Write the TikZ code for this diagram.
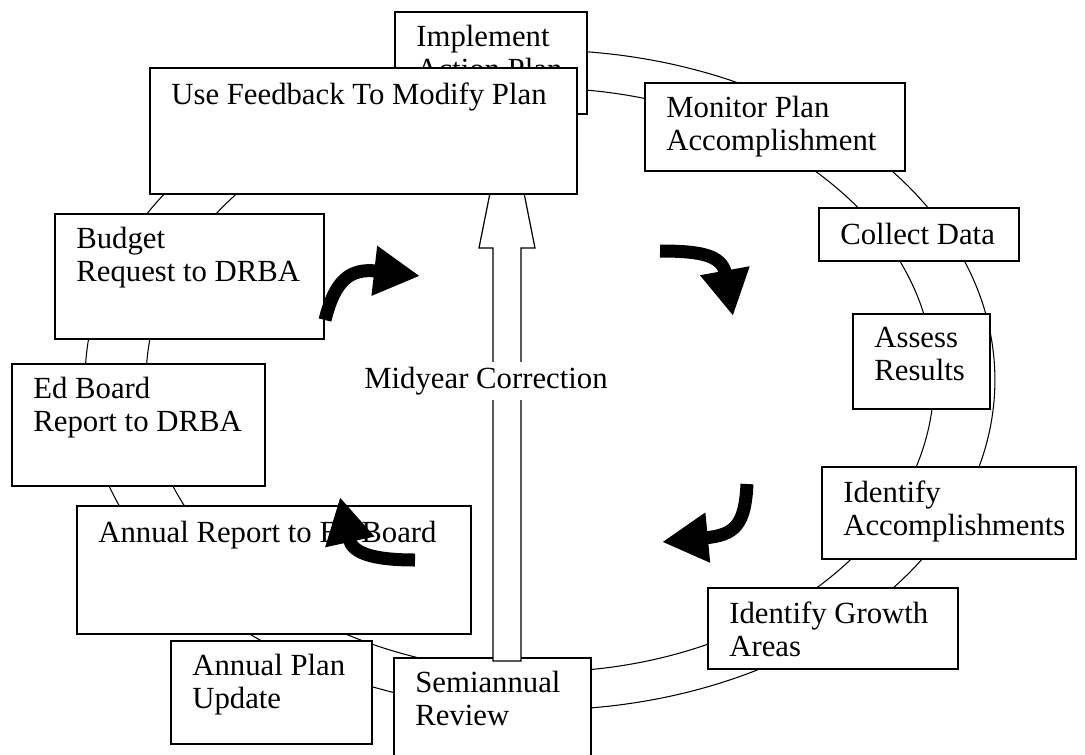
\documentclass[tikz,border=0pt]{standalone}
\usepackage{fontspec}
\setmainfont{Liberation Serif}
\usetikzlibrary{arrows.meta}

\begin{document}
\begin{tikzpicture}[
    x=0.02cm, y=-0.02cm,
    font=\fontsize{17.5}{18.8}\selectfont,
    ring/.style={line width=0.6pt},
    stage/.style={draw, fill=white, line width=1pt, anchor=north west, inner sep=0pt},
    caption/.style={anchor=north west, align=left, inner sep=0pt, execute at begin node=\strut},
    turn/.style={line width=0.26cm, -{Triangle[length=0.92cm, width=0.94cm]}},
    hollow/.style={draw, fill=white, line width=0.7pt, line join=miter},
]
\useasboundingbox (0,0) rectangle (1085,754);
\draw[ring] (540,380) ellipse [x radius=9.1cm, y radius=6.6cm];
\draw[ring] (540,380) ellipse [x radius=7.88cm, y radius=5.84cm];

\node[stage, minimum width=3.84cm, minimum height=2.04cm] (implement) at (394,11) {};
\node[caption] (implement-t) at ([shift={(22,14)}]implement.north west) {Implement\\Action Plan};
\node[stage, minimum width=5.2cm, minimum height=1.76cm] (monitor) at (644,82) {};
\node[caption] (monitor-t) at ([shift={(22,14)}]monitor.north west) {Monitor Plan\\Accomplishment};
\node[stage, minimum width=4cm, minimum height=1.06cm] (collect) at (818,207) {};
\node[caption] (collect-t) at ([shift={(22,14)}]collect.north west) {Collect Data};
\node[stage, minimum width=2.74cm, minimum height=1.9cm] (assess) at (852,313) {};
\node[caption] (assess-t) at ([shift={(22,14)}]assess.north west) {Assess\\Results};
\node[stage, minimum width=5.08cm, minimum height=1.84cm] (accomplish) at (821,466) {};
\node[caption] (accomplish-t) at ([shift={(22,14)}]accomplish.north west) {Identify\\Accomplishments};
\node[stage, minimum width=5cm, minimum height=1.62cm] (growth) at (707,587) {};
\node[caption] (growth-t) at ([shift={(22,14)}]growth.north west) {Identify Growth\\Areas};
\node[stage, minimum width=3.94cm, minimum height=2.4cm] (semiannual) at (393,657) {};
\node[caption] (semiannual-t) at ([shift={(22,14)}]semiannual.north west) {Semiannual\\Review};
\node[stage, minimum width=4.02cm, minimum height=2.06cm] (planupdate) at (170,640) {};
\node[caption] (planupdate-t) at ([shift={(22,14)}]planupdate.north west) {Annual Plan\\Update};
\node[stage, minimum width=7.88cm, minimum height=2.56cm] (annual) at (76,505) {};
\node[caption] (annual-t) at ([shift={(22,14)}]annual.north west) {Annual Report to Ed Board};
\node[stage, minimum width=5.06cm, minimum height=2.44cm] (edboard) at (11,363) {};
\node[caption] (edboard-t) at ([shift={(22,14)}]edboard.north west) {Ed Board\\Report to DRBA};
\node[stage, minimum width=5.38cm, minimum height=2.5cm] (budget) at (54,213) {};
\node[caption] (budget-t) at ([shift={(22,14)}]budget.north west) {Budget\\Request to DRBA};

\coordinate (midfoot) at (507,661);
\draw[hollow] ([shift={(-14,0)}]midfoot) -- ++(0,-413) -- ++(-14,0) -- (507,108)
    -- (535,248) -- ++(-14,0) -- ([shift={(14,0)}]midfoot) -- cycle;
\node[stage, minimum width=8.54cm, minimum height=2.52cm] (feedback) at (149,67) {};
\node[caption] (feedback-t) at ([shift={(22,14)}]feedback.north west) {Use Feedback To Modify Plan};
\node[fill=white, inner sep=3pt] (midyear) at (486,381) {Midyear Correction};

\draw[turn] (325,320) .. controls (335,280) and (350,268) .. (420,276);
\draw[turn] (660,251) .. controls (700,251) and (722,255) .. (733,316);
\draw[turn] (747,484) .. controls (745,525) and (735,535) .. (662,542);
\draw[turn] (415,560) .. controls (370,560) and (352,552) .. (340,497);
\end{tikzpicture}
\end{document}
